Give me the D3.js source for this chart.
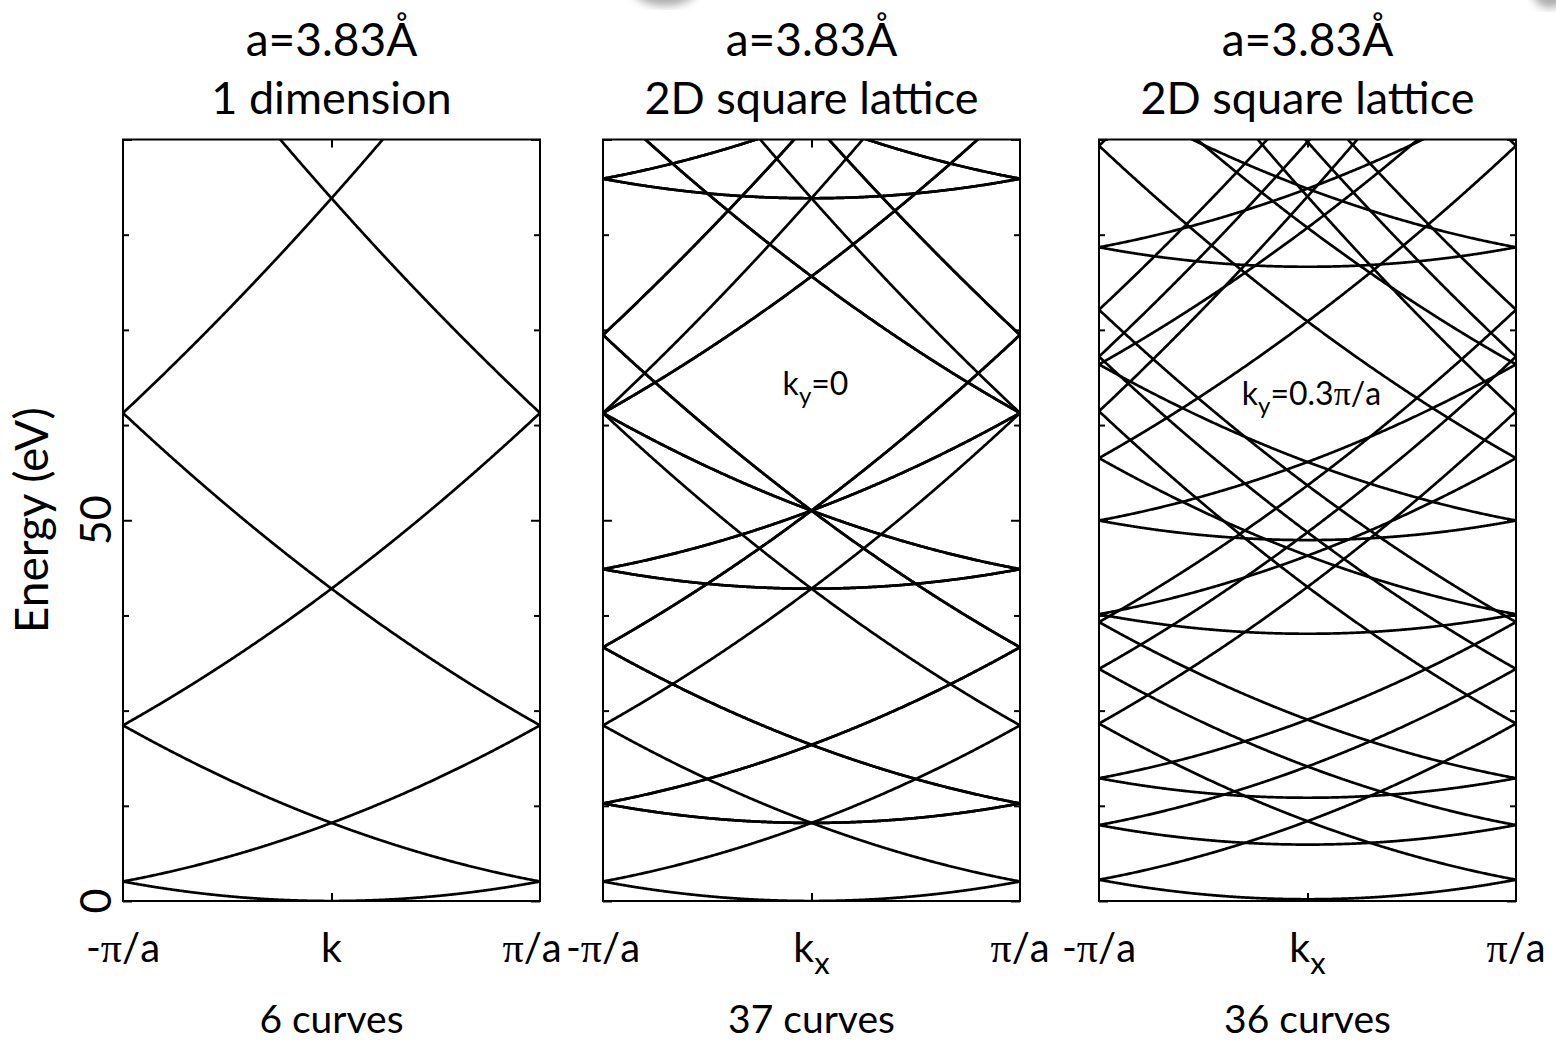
<!DOCTYPE html>
<html>
<head>
<meta charset="utf-8">
<script src="https://cdn.jsdelivr.net/npm/d3@7"></script>
<style>
  body { margin: 0; background: #fff; }
  text { font-family: Lato, "Open Sans", sans-serif; fill: #000; }
</style>
</head>
<body>
<svg id="chart"></svg>
<script>
//Lattice constant (Å) and free electron prefactor hbar^2/2m (eV·Å^2)
const latticeA = 3.83;
const hbar2m = 3.81;

//Reciprocal lattice indices n, m for G = (2πn/a, 2πm/a)
const gIndexX = [-3, -2, -1, 0, 1, 2, 3];
const gIndexY = [-3, -2, -1, 0, 1, 2, 3];

//Panel texts and ky (in units of π/a, null = 1D chain)
const panelHeaders = ["a=3.83Å", "a=3.83Å", "a=3.83Å"];
const panelTitles = ["1 dimension", "2D square lattice", "2D square lattice"];
const panelKy = [null, 0, 0.3];
const panelKyLabels = ["", "=0", "=0.3"];
const panelKSub = ["", "x", "x"];
const panelCounts = ["6 curves", "37 curves", "36 curves"];

//Axis ranges and ticks
const energyRange = [0, 100];
const kRange = [-1, 1];
const yMajorTicks = [0, 50, 100];
const yMinorTicks = [12.5, 25, 37.5, 62.5, 75, 87.5];
const yTickLabels = [0, 50];

//Layout
const svgWidth = 1556, svgHeight = 1044;
const panelLeft = [123, 603, 1099];
const panelWidth = 417;
const plotTop = 139.5, plotBottom = 901;

let svg = d3.select("#chart")
  .attr("width", svgWidth)
  .attr("height", svgHeight)
  .style("display", "block");

svg.append("rect").attr("width", svgWidth).attr("height", svgHeight).attr("fill", "#fff");

//Faint grey shadows at the top edge of the slide
let defs = svg.append("defs");
defs.append("filter").attr("id", "blur").append("feGaussianBlur").attr("stdDeviation", 4);
svg.append("ellipse").attr("cx", 665).attr("cy", -14).attr("rx", 34).attr("ry", 20)
  .attr("fill", "#9a9a9a").attr("filter", "url(#blur)").attr("opacity", 0.8);
svg.append("ellipse").attr("cx", 1550).attr("cy", -10).attr("rx", 18).attr("ry", 18)
  .attr("fill", "#9a9a9a").attr("filter", "url(#blur)").attr("opacity", 0.8);

let yScale = d3.scaleLinear().domain(energyRange).range([plotBottom, plotTop]);

//Energy unit (π/a)^2 * hbar^2/2m
const e0 = hbar2m * Math.pow(Math.PI / latticeA, 2);
const kSamples = d3.range(kRange[0], kRange[1] + 1e-9, 0.005);

function piLabel(sel, x, y, neg) {
  let t = sel.append("text")
    .attr("x", x).attr("y", y)
    .attr("text-anchor", "middle")
    .style("font-size", "40px");
  if (neg) t.append("tspan").text("-");
  t.append("tspan").style("font-family", "'Liberation Serif', serif").style("font-size", "42px").text("π");
  t.append("tspan").text("/a");
}

panelLeft.forEach(function (left, i) {
  let xScale = d3.scaleLinear().domain(kRange).range([left, left + panelWidth]);
  let g = svg.append("g");

  //Build curves for this panel
  let curves = [];
  if (panelKy[i] === null) {
    gIndexX.forEach(n => curves.push(kSamples.map(k => [k, e0 * Math.pow(k + 2 * n, 2)])));
  } else {
    gIndexX.forEach(n => gIndexY.forEach(m => {
      curves.push(kSamples.map(k => [k, e0 * (Math.pow(k + 2 * n, 2) + Math.pow(panelKy[i] + 2 * m, 2))]));
    }));
  }
  curves = curves.filter(c => d3.min(c, d => d[1]) < energyRange[1]);

  g.append("clipPath").attr("id", "clip" + i)
    .append("rect")
    .attr("x", left).attr("y", plotTop)
    .attr("width", panelWidth).attr("height", plotBottom - plotTop);

  let line = d3.line().x(d => xScale(d[0])).y(d => yScale(d[1]));

  g.append("g").attr("clip-path", `url(#clip${i})`)
    .selectAll("path")
    .data(curves)
    .enter()
    .append("path")
    .attr("d", line)
    .attr("fill", "none")
    .attr("stroke", "#000")
    .attr("stroke-width", 2.7);

  //Ticks pointing inward
  let addAxis = function (axis, tx, ty) {
    let a = g.append("g").attr("transform", `translate(${tx},${ty})`).call(axis);
    a.select(".domain").remove();
    a.selectAll("line").attr("stroke", "#000").attr("stroke-width", 2);
  };
  addAxis(d3.axisLeft(yScale).tickValues(yMajorTicks).tickSize(-9).tickFormat(""), left, 0);
  addAxis(d3.axisLeft(yScale).tickValues(yMinorTicks).tickSize(-6).tickFormat(""), left, 0);
  addAxis(d3.axisRight(yScale).tickValues(yMajorTicks).tickSize(-9).tickFormat(""), left + panelWidth, 0);
  addAxis(d3.axisRight(yScale).tickValues(yMinorTicks).tickSize(-6).tickFormat(""), left + panelWidth, 0);
  addAxis(d3.axisBottom(xScale).tickValues([0]).tickSize(-8).tickFormat(""), 0, plotBottom);
  addAxis(d3.axisTop(xScale).tickValues([0]).tickSize(-8).tickFormat(""), 0, plotTop);

  //Frame
  g.append("rect")
    .attr("x", left).attr("y", plotTop)
    .attr("width", panelWidth).attr("height", plotBottom - plotTop)
    .attr("fill", "none").attr("stroke", "#000").attr("stroke-width", 2);

  let cx = xScale(0);

  //Titles
  g.append("text").attr("x", cx).attr("y", 56).attr("text-anchor", "middle")
    .style("font-size", "46px").text(panelHeaders[i]);
  g.append("text").attr("x", cx).attr("y", 114).attr("text-anchor", "middle")
    .style("font-size", "45px").text(panelTitles[i]);

  //X tick labels
  piLabel(g, xScale(kRange[0]), 962, true);
  piLabel(g, xScale(kRange[1]) - (i === 0 ? 8 : 0), 962, false);
  let kt = g.append("text").attr("x", cx).attr("y", 962).attr("text-anchor", "middle")
    .style("font-size", "41px");
  kt.append("tspan").text("k");
  if (panelKSub[i]) kt.append("tspan").attr("dy", 12).style("font-size", "31px").text(panelKSub[i]);

  //Curve counts
  g.append("text").attr("x", cx).attr("y", 1033).attr("text-anchor", "middle")
    .style("font-size", "39px").text(panelCounts[i]);

  //ky annotation
  if (panelKy[i] !== null) {
    let t = g.append("text").attr("x", cx + 4).attr("y", panelKy[i] === 0 ? 395 : 405)
      .attr("text-anchor", "middle").style("font-size", "32px");
    t.append("tspan").text("k");
    t.append("tspan").attr("dy", 9).style("font-size", "24px").text("y");
    t.append("tspan").attr("dy", -9).text(panelKyLabels[i]);
    if (panelKy[i] !== 0) {
      t.append("tspan").style("font-family", "'Liberation Serif', serif").style("font-size", "34px").text("π");
      t.append("tspan").text("/a");
    }
  }
});

//Y tick labels (rotated)
yTickLabels.forEach(function (v) {
  svg.append("text")
    .attr("transform", `translate(111, ${yScale(v)}) rotate(-90)`)
    .attr("text-anchor", "middle")
    .style("font-size", "43px")
    .text(v);
});

//Y axis title
svg.append("text")
  .attr("transform", `translate(48, ${yScale(50)}) rotate(-90)`)
  .attr("text-anchor", "middle")
  .style("font-size", "46px")
  .text("Energy (eV)");
</script>
</body>
</html>
